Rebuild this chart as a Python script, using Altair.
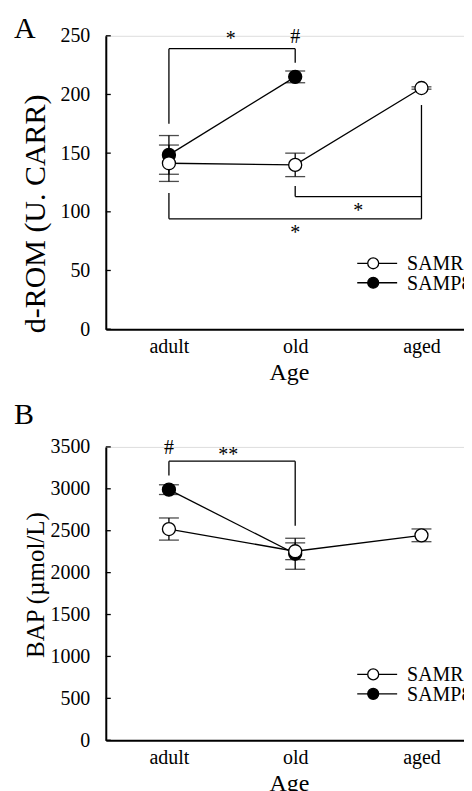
import altair as alt
import pandas as pd

cats = ["adult", "old", "aged"]
groups = ["SAMR1", "SAMP8"]

# Panel A: d-ROM (U. CARR)
rom_r_mean = [141.4, 140.0, 205.5]
rom_r_sem = [15.5, 10.0, 1.0]
rom_p_mean = [148.5, 215.0]
rom_p_sem = [16.5, 5.0]
rom_ticks = [0, 50, 100, 150, 200, 250]
# brackets: (x, x2, y, y2) in category index / data units
rom_brackets = [
    (0, 0, 175, 239), (0, 1, 239, 239), (1, 1, 239, 227),
    (1, 1, 122, 113), (1, 2, 113, 113), (2, 2, 94, 191),
    (0, 0, 116, 94), (0, 2, 94, 94),
]
rom_signs = [("*", 0.49, 247), ("#", 1.0, 249), ("*", 1.5, 101), ("*", 1.0, 82)]

# Panel B: BAP (µmol/L)
bap_r_mean = [2520, 2255, 2445]
bap_r_sem = [132, 100, 76]
bap_p_mean = [2990, 2225]
bap_p_sem = [58, 185]
bap_ticks = [0, 500, 1000, 1500, 2000, 2500, 3000, 3500]
bap_brackets = [(0, 0, 3160, 3330), (0, 1, 3330, 3330), (1, 1, 3330, 2560)]
bap_signs = [("#", 0.0, 3490), ("**", 0.47, 3400)]

FONT = "Liberation Serif"
LW = 1.3
label_expr = "[" + ",".join("'%s'" % c for c in cats) + "][datum.value]"


def make_df(r_mean, r_sem, p_mean, p_sem):
    rows = []
    for i, (m, s) in enumerate(zip(r_mean, r_sem)):
        rows.append({"idx": i, "cat": cats[i], "group": "SAMR1", "mean": m, "lo": m - s, "hi": m + s})
    for i, (m, s) in enumerate(zip(p_mean, p_sem)):
        rows.append({"idx": i, "cat": cats[i], "group": "SAMP8", "mean": m, "lo": m - s, "hi": m + s})
    return pd.DataFrame(rows)


def panel(df, brackets, signs, ydom, yticks, ytitle, ytitle_size, ytitle_y, letter, letter_y):
    X = alt.X(
        "idx:Q",
        scale=alt.Scale(domain=[-0.5, 2.4], nice=False, zero=False),
        axis=alt.Axis(
            values=[0, 1, 2], labelExpr=label_expr, title="Age", grid=False, ticks=False,
            domainColor="black", domainWidth=2, labelFontSize=20, labelColor="black",
            labelPadding=7, titleFontSize=24, titleFontWeight="normal", titleColor="black",
            titlePadding=4, labelFont=FONT, titleFont=FONT,
        ),
    )
    Y = alt.Y(
        "mean:Q",
        scale=alt.Scale(domain=ydom, nice=False, zero=True),
        axis=alt.Axis(
            values=yticks, format="d", title=ytitle, grid=False, ticks=False, domainColor="black",
            domainWidth=2, labelFontSize=20, labelColor="black", labelPadding=16,
            titleFontSize=ytitle_size, titleFontWeight="normal", titleColor="black",
            titleX=-70, titleY=ytitle_y, titleAlign="center", titleBaseline="middle",
            titleAngle=-90, labelFont=FONT, titleFont=FONT,
        ),
    )
    base = alt.Chart(df)
    tick_df = pd.DataFrame({"v": yticks})
    ticks = alt.Chart(tick_df).mark_rule(color="black", strokeWidth=LW).encode(
        y=alt.Y("v:Q"), x=alt.value(0), x2=alt.value(5)
    )
    br_df = pd.DataFrame(brackets, columns=["x", "x2", "y", "y2"])
    br = alt.Chart(br_df).mark_rule(color="black", strokeWidth=LW).encode(
        x=alt.X("x:Q"), x2="x2:Q", y=alt.Y("y:Q"), y2="y2:Q"
    )
    sg_df = pd.DataFrame(signs, columns=["t", "x", "y"])
    sg = alt.Chart(sg_df).mark_text(font=FONT, fontSize=20, color="black", baseline="middle").encode(
        x=alt.X("x:Q"), y=alt.Y("y:Q"), text="t:N"
    )
    lines = base.mark_line(color="black", strokeWidth=LW).encode(x=X, y=Y, detail="group:N")
    err = base.mark_rule(color="black", strokeWidth=LW).encode(x=X, y=alt.Y("lo:Q"), y2="hi:Q")
    cap_lo = base.mark_tick(orient="horizontal", size=20, thickness=LW, color="black").encode(x=X, y=alt.Y("lo:Q"))
    cap_hi = base.mark_tick(orient="horizontal", size=20, thickness=LW, color="black").encode(x=X, y=alt.Y("hi:Q"))
    pts_p = base.transform_filter(alt.datum.group == "SAMP8").mark_point(
        filled=True, size=170, fill="black", stroke="black", strokeWidth=LW, opacity=1
    ).encode(x=X, y=Y)
    pts_r = base.transform_filter(alt.datum.group == "SAMR1").mark_point(
        filled=True, size=170, fill="white", stroke="black", strokeWidth=LW, opacity=1
    ).encode(x=X, y=Y)

    # legend drawn by hand
    leg = []
    for row, (g, fill) in enumerate(zip(groups, ["white", "black"])):
        yy = 228 + row * 19.5
        leg_df = pd.DataFrame({"group": [g]})
        c = alt.Chart(leg_df)
        leg.append(c.mark_rule(color="black", strokeWidth=LW).encode(
            x=alt.value(252), x2=alt.value(292), y=alt.value(yy)))
        leg.append(c.mark_point(filled=True, size=120, fill=fill, stroke="black", strokeWidth=LW, opacity=1).encode(
            x=alt.value(268), y=alt.value(yy)))
        leg.append(c.mark_text(font=FONT, fontSize=20, color="black", align="left", baseline="middle", clip=True).encode(
            x=alt.value(302), y=alt.value(yy + 1), text="group:N"))
    lab = alt.Chart(pd.DataFrame({"t": [letter]})).mark_text(
        font=FONT, fontSize=30, color="black", align="left", baseline="alphabetic"
    ).encode(x=alt.value(-92), y=alt.value(letter_y), text="t:N")

    return alt.layer(ticks, br, sg, lines, err, cap_lo, cap_hi, pts_p, pts_r, *leg, lab).properties(
        width=367, height=294
    )


dfA = make_df(rom_r_mean, rom_r_sem, rom_p_mean, rom_p_sem)
dfB = make_df(bap_r_mean, bap_r_sem, bap_p_mean, bap_p_sem)

pA = panel(dfA, rom_brackets, rom_signs, [0, 250], rom_ticks, "d-ROM (U. CARR)", 30, 178, "A", 2)
pB = panel(dfB, bap_brackets, bap_signs, [0, 3500], bap_ticks, "BAP (µmol/L)", 25, 138, "B", -23)

chart = alt.vconcat(pA, pB, spacing=14).properties(
    padding={"left": 5, "top": 4, "right": -9, "bottom": -4},
    background="white",
).configure_view(stroke=None).configure_axis(
    labelFont=FONT, titleFont=FONT
).configure_text(font=FONT).configure(font=FONT)

chart.save("out.html", embed_options={"renderer": "svg", "actions": False})
